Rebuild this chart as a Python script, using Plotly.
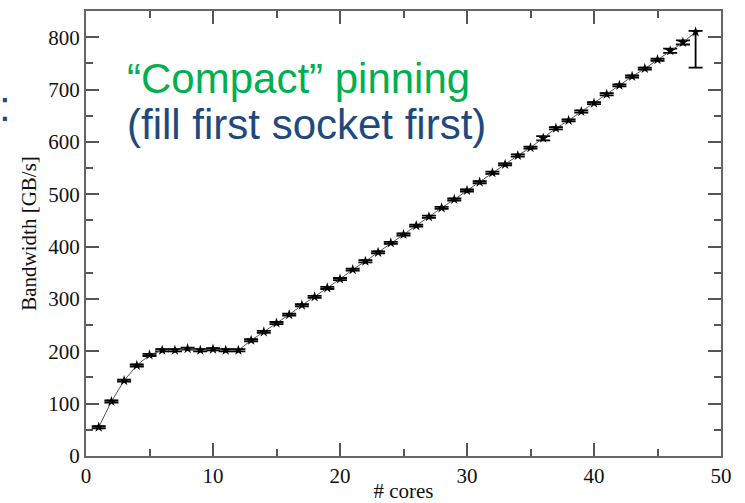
import plotly.graph_objects as go

cores = list(range(1, 49))
bandwidth = [55, 104, 144, 173, 193, 202, 202, 205, 202, 204, 202, 202,
             221, 237, 254, 270, 288, 304, 321, 338, 356, 372, 389, 407,
             423, 440, 457, 474, 490, 507, 523, 541, 557, 574, 589, 607,
             626, 641, 658, 674, 691, 708, 725, 740, 757, 774, 790, 810]
err_plus = [2] * 47 + [2]
err_minus = [2] * 47 + [68]
err_plus[35] = 4; err_minus[35] = 4
err_plus[45] = 4; err_minus[45] = 4
err_plus[46] = 4; err_minus[46] = 4

x_ticks = [0, 10, 20, 30, 40, 50]
y_ticks = [0, 100, 200, 300, 400, 500, 600, 700, 800]

title_line1 = "\u201cCompact\u201d pinning"
title_line2 = "(fill first socket first)"

fig = go.Figure()
fig.add_trace(go.Scatter(
    x=cores, y=bandwidth, mode="lines+markers",
    line=dict(color="#555555", width=1),
    marker=dict(symbol="star", size=8, color="black"),
    error_y=dict(type="data", symmetric=False, array=err_plus, arrayminus=err_minus,
                 color="black", thickness=1.8, width=7),
    showlegend=False,
))

axis_common = dict(
    showline=True, linecolor="#666666", linewidth=2, mirror="ticks",
    ticks="inside", tickcolor="#555555", tickwidth=1.5, ticklen=13,
    showgrid=False, zeroline=False, automargin=False,
    tickfont=dict(family="Liberation Serif", size=21, color="#111111"),
)

fig.update_layout(
    width=745, height=503,
    margin=dict(l=86, r=24, t=11, b=47),
    paper_bgcolor="white", plot_bgcolor="white",
    xaxis=dict(range=[0, 50], tickvals=x_ticks,
               minor=dict(ticks="inside", dtick=5, ticklen=7, tickcolor="#555555", tickwidth=1.5),
               title=dict(text="# cores", font=dict(family="Liberation Serif", size=21, color="#111111"),
                          standoff=1),
               **axis_common),
    yaxis=dict(range=[0, 850], tickvals=y_ticks,
               minor=dict(ticks="inside", dtick=50, ticklen=7, tickcolor="#555555", tickwidth=1.5),
               title=dict(text="Bandwidth [GB/s]", font=dict(family="Liberation Serif", size=21, color="#111111"),
                          standoff=6),
               **axis_common),
    annotations=[
        dict(text=title_line1, x=3.1, y=722, xref="x", yref="y", xanchor="left", yanchor="middle",
             showarrow=False, font=dict(family="Liberation Sans", size=42, color="#00B050")),
        dict(text=title_line2, x=3.1, y=633, xref="x", yref="y", xanchor="left", yanchor="middle",
             showarrow=False, font=dict(family="Liberation Sans", size=42, color="#1F497D")),
        dict(text=":", x=(5 - 86) / 635, y=0.785, xref="paper", yref="paper", xanchor="center",
             yanchor="middle", showarrow=False, font=dict(family="Liberation Sans", size=42, color="#1F497D")),
    ],
)

fig.write_html("out.html", config={"displayModeBar": False},
               post_script="document.body.style.margin='0';document.body.style.overflow='hidden';")
